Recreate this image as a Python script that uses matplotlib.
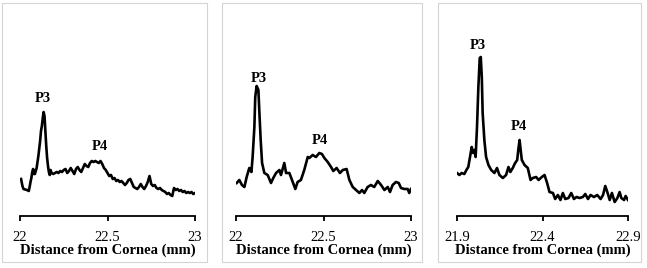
import matplotlib
matplotlib.use("Agg")
import matplotlib.pyplot as plt
from matplotlib.patches import Rectangle

# panel 1: distance (mm) and reflectance (arbitrary units)
x1 = [22.006, 22.014, 22.02, 22.04, 22.05, 22.055, 22.06, 22.065, 22.07, 22.075,
      22.08, 22.085, 22.095, 22.105, 22.115, 22.12, 22.125, 22.13, 22.135, 22.14,
      22.145, 22.15, 22.155, 22.16, 22.165, 22.17, 22.175, 22.18, 22.19, 22.20,
      22.21, 22.22, 22.23, 22.24, 22.25, 22.26, 22.27, 22.28, 22.29, 22.30,
      22.31, 22.32, 22.33, 22.34, 22.35, 22.36, 22.37, 22.38, 22.39, 22.40,
      22.41, 22.42, 22.43, 22.44, 22.45, 22.46, 22.47, 22.48, 22.49, 22.50,
      22.51, 22.52, 22.53, 22.54, 22.55, 22.56, 22.57, 22.58, 22.59, 22.60,
      22.61, 22.62, 22.63, 22.64, 22.65, 22.66, 22.67, 22.68, 22.69, 22.70,
      22.71, 22.72, 22.73, 22.74, 22.75, 22.76, 22.77, 22.78, 22.79, 22.80,
      22.81, 22.82, 22.83, 22.84, 22.85, 22.86, 22.87, 22.875, 22.88, 22.89,
      22.90, 22.91, 22.92, 22.93, 22.94, 22.95, 22.96, 22.97, 22.98, 22.99, 23.00]
y1 = [37, 30, 27, 26, 25, 29, 34, 38, 44, 47,
      42, 42, 48, 60, 75, 85, 90, 98, 104, 100,
      85, 70, 58, 50, 44, 41, 46, 43, 42, 43,
      44, 43, 45, 44, 46, 47, 43, 45, 48, 45,
      42, 47, 49, 46, 44, 48, 52, 50, 49, 53,
      55, 54, 55, 54, 53, 55, 52, 48, 46, 43,
      40, 41, 37, 38, 35, 36, 34, 35, 33, 31,
      33, 36, 37, 33, 29, 28, 27, 29, 32, 29,
      27, 30, 34, 40, 32, 30, 31, 28, 27, 28,
      26, 25, 24, 22, 23, 21, 20, 24, 28, 26,
      27, 25, 26, 24, 25, 23, 24, 23, 24, 22, 23]

# panel 2
x2 = [22.004, 22.019, 22.034, 22.048, 22.061, 22.076, 22.088, 22.095, 22.105, 22.11,
      22.118, 22.128, 22.133, 22.141, 22.149, 22.162, 22.181, 22.2, 22.213, 22.229,
      22.248, 22.257, 22.276, 22.286, 22.305, 22.32, 22.339, 22.352, 22.371, 22.39,
      22.41, 22.419, 22.438, 22.457, 22.476, 22.491, 22.505, 22.524, 22.543, 22.556,
      22.575, 22.594, 22.61, 22.632, 22.648, 22.667, 22.686, 22.705, 22.72, 22.733,
      22.752, 22.771, 22.79, 22.81, 22.829, 22.848, 22.867, 22.88, 22.895, 22.914,
      22.93, 22.943, 22.962, 22.981, 22.99, 23.0]
y2 = [33, 36, 31, 29, 39, 48, 44, 59, 89, 119,
      130, 126, 106, 76, 53, 43, 41, 33, 38, 43,
      46, 41, 53, 43, 43, 36, 27, 34, 36, 46,
      59, 58, 61, 59, 63, 62, 58, 54, 49, 45,
      48, 43, 46, 47, 36, 29, 26, 23, 26, 23,
      29, 31, 29, 35, 31, 26, 29, 24, 31, 34,
      33, 28, 27, 27, 23, 27]

# panel 3
x3 = [21.9, 21.914, 21.927, 21.943, 21.955, 21.966, 21.978, 21.986, 21.994, 22.002,
      22.009, 22.017, 22.025, 22.033, 22.039, 22.045, 22.05, 22.06, 22.07, 22.084,
      22.1, 22.119, 22.134, 22.148, 22.168, 22.187, 22.201, 22.212, 22.226, 22.24,
      22.252, 22.259, 22.266, 22.271, 22.279, 22.295, 22.314, 22.33, 22.343, 22.363,
      22.377, 22.396, 22.412, 22.427, 22.441, 22.461, 22.474, 22.49, 22.505, 22.519,
      22.533, 22.552, 22.568, 22.584, 22.599, 22.617, 22.636, 22.65, 22.666, 22.681,
      22.701, 22.72, 22.74, 22.754, 22.767, 22.779, 22.793, 22.806, 22.822, 22.838,
      22.851, 22.861, 22.877, 22.886, 22.9]
y3 = [43, 41, 43, 42, 46, 49, 61, 69, 63, 66,
      59, 89, 129, 158, 159, 139, 103, 76, 59, 51,
      46, 43, 48, 41, 38, 41, 49, 44, 48, 53,
      56, 67, 76, 68, 56, 51, 48, 36, 38, 39,
      36, 39, 41, 33, 24, 23, 17, 21, 16, 23,
      17, 18, 23, 17, 19, 18, 19, 22, 17, 21,
      19, 21, 17, 21, 30, 24, 16, 23, 14, 18,
      24, 18, 16, 20, 16]

series = [(x1, y1), (x2, y2), (x3, y3)]
xticks = [[22, 22.5, 23], [22, 22.5, 23], [21.9, 22.4, 22.9]]
xticklabels = [["22", "22.5", "23"], ["22", "22.5", "23"], ["21.9", "22.4", "22.9"]]
peak_labels = ["P3", "P4"]
peak_pos = [[(22.133, 117), (22.457, 69)],
            [(22.133, 138), (22.482, 75)],
            [(22.021, 171), (22.259, 89)]]

W, H = 647, 268
fig = plt.figure(figsize=(W / 100, H / 100), dpi=100)
plt.rcParams["font.family"] = "Liberation Serif"

axes_px = [(20, 195), (236, 411), (457, 628)]
boxes_px = [(2, 207), (222, 422), (438, 641)]
top_px, axis_px = 10, 216

for i, (xs, ys) in enumerate(series):
    bl, br = boxes_px[i]
    fig.patches.append(Rectangle((bl / W, 1 - 262 / H), (br - bl) / W, (262 - 3) / H,
                                 transform=fig.transFigure, fill=False,
                                 edgecolor="#d4d4d4", linewidth=0.8))
    l, r = axes_px[i]
    ax = fig.add_axes([l / W, 1 - axis_px / H, (r - l) / W, (axis_px - top_px) / H])
    ax.plot(xs, ys, color="black", linewidth=1.9)
    ax.set_xlim(xticks[i][0], xticks[i][-1])
    ax.set_ylim(0, axis_px - top_px)
    ax.set_xticks(xticks[i])
    ax.set_xticklabels(xticklabels[i])
    ax.set_yticks([])
    for s in ["top", "right", "left"]:
        ax.spines[s].set_visible(False)
    ax.spines["bottom"].set_linewidth(1.3)
    ax.tick_params(axis="x", direction="out", length=3.5, width=1.3, pad=7,
                   labelsize=10.5)
    ax.set_xlabel("Distance from Cornea (mm)", fontsize=10.5, fontweight="bold",
                  labelpad=0)
    ax.patch.set_alpha(0)
    for lab, (px, py) in zip(peak_labels, peak_pos[i]):
        ax.text(px, py, lab, ha="center", va="center", fontsize=10.5,
                fontweight="bold")

fig.savefig("out.png", dpi=100)
